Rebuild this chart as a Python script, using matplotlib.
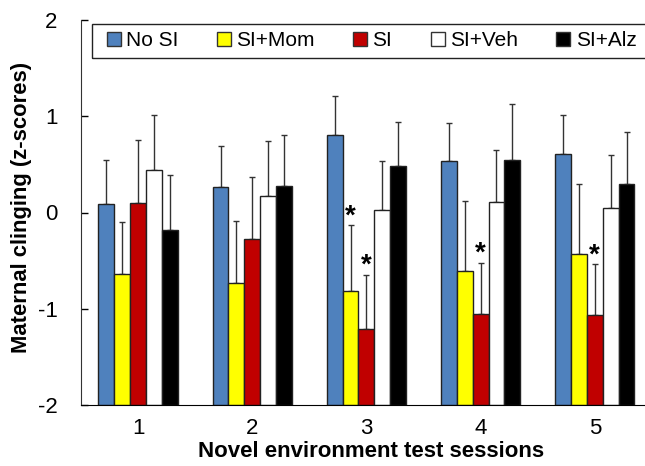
import matplotlib
matplotlib.use("Agg")
import matplotlib.pyplot as plt
import numpy as np
from matplotlib.patches import Patch, Rectangle

plt.rcParams['font.family'] = 'Liberation Sans'

sessions = ["1", "2", "3", "4", "5"]
groups = ["No SI", "SI+Mom", "SI", "SI+Veh", "SI+Alz"]
colors = ["#4F81BD", "#FFFF00", "#C00000", "#FFFFFF", "#000000"]

# bar heights (z-scores) per group, one value per session
no_si = [0.09, 0.27, 0.81, 0.53, 0.61]
si_mom = [-0.635, -0.735, -0.815, -0.61, -0.435]
si = [0.10, -0.277, -1.21, -1.057, -1.07]
si_veh = [0.44, 0.17, 0.03, 0.114, 0.05]
si_alz = [-0.18, 0.277, 0.48, 0.55, 0.30]

# upper error (SEM)
no_si_err = [0.46, 0.42, 0.40, 0.40, 0.40]
si_mom_err = [0.535, 0.65, 0.68, 0.73, 0.73]
si_err = [0.65, 0.65, 0.56, 0.53, 0.53]
si_veh_err = [0.57, 0.57, 0.50, 0.54, 0.55]
si_alz_err = [0.57, 0.53, 0.46, 0.58, 0.54]

# significance stars: (session index, group index)
stars = [(2, 1), (2, 2), (3, 2), (4, 2)]

values = [no_si, si_mom, si, si_veh, si_alz]
errors = [no_si_err, si_mom_err, si_err, si_veh_err, si_alz_err]

fig = plt.figure(figsize=(6.45, 4.66), dpi=100)
ax = fig.add_axes([81/645, 1 - 405/466, 1 - 81/645, 385/466])

x = np.arange(1, 6)
width = 0.139
base = -2
for i in range(5):
    xs = x + (i - 2) * width
    v = np.array(values[i])
    ax.bar(xs, v - base, width, bottom=base, color=colors[i],
           edgecolor="#222222", linewidth=1, zorder=2)
    ax.errorbar(xs, v, yerr=[np.zeros(5), errors[i]], fmt="none",
                ecolor="#333333", elinewidth=1, capsize=2.2, capthick=1, zorder=1)

for s, g in stars:
    xs = x[s] + (g - 2) * width
    top = values[g][s] + errors[g][s]
    ax.text(xs, top - 0.04, "*", ha="center", va="bottom",
            fontsize=20, fontweight="bold")

ax.set_xlim(0.5, 5.44)
ax.set_ylim(-2, 2)
ax.set_yticks([-2, -1, 0, 1, 2])
ax.set_yticklabels(["-2", "-1", "0", "1", "2"])
ax.set_xticks(x)
ax.set_xticklabels(sessions)
ax.tick_params(axis="y", direction="in", length=5, width=1, pad=17, labelsize=16)
ax.tick_params(axis="x", length=0, pad=9, labelsize=16)
ax.spines["top"].set_visible(False)
ax.spines["right"].set_visible(False)
ax.spines["left"].set_color("#333333")

ax.set_xlabel("Novel environment test sessions", fontsize=16, fontweight="bold")
ax.xaxis.set_label_coords(0.514, -0.093)
ax.set_ylabel("Maternal clinging (z-scores)", fontsize=15.8, fontweight="bold")
ax.yaxis.set_label_coords(-0.087, 0.514)

handles = [Patch(facecolor=c, edgecolor="#333333", linewidth=1) for c in colors]
leg = fig.legend(handles, groups, loc="center left",
                 bbox_to_anchor=(107/645, 1 - 41/466),
                 ncol=5, fontsize=15, frameon=False,
                 handlelength=0.67, handleheight=0.67, handletextpad=0.25,
                 columnspacing=1.85, borderaxespad=0, borderpad=0)

# legend box runs past the right edge as in the source figure
fig.patches.append(Rectangle((92/645, 1 - 58/466), 580/645, 34/466,
                             transform=fig.transFigure, fill=False,
                             edgecolor="#222222", linewidth=1))

fig.savefig("out.png", dpi=100)
